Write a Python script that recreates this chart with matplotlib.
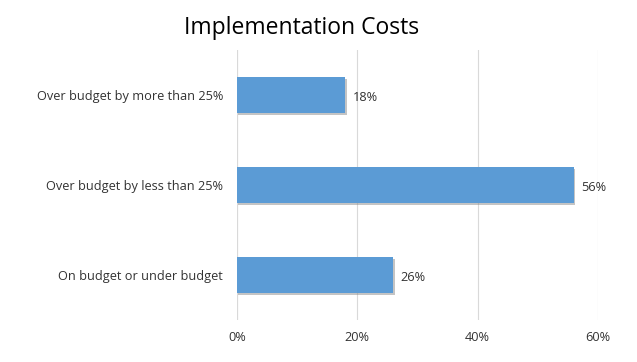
# Implementation Costs - horizontal bar chart

import matplotlib
matplotlib.use('Agg')
import matplotlib.pyplot as plt
import matplotlib.patheffects as pe

# data
categories = ['On budget or under budget', 'Over budget by less than 25%', 'Over budget by more than 25%']
values = [26, 56, 18]
xticks = [0, 20, 40, 60]
xtick_labels = ['0%', '20%', '40%', '60%']

plt.rcParams['font.family'] = ['Open Sans', 'DejaVu Sans']

fig = plt.figure(figsize=(6.37, 3.62), dpi=100)
ax = fig.add_axes([0.372, 0.116, 0.567, 0.746])

bars = ax.barh(range(len(categories)), values, height=0.4, color='#5B9BD5', zorder=3)
for b in bars:
    b.set_path_effects([pe.SimplePatchShadow(offset=(1, -1.5), shadow_rgbFace='#8a8a8a', alpha=0.5), pe.Normal()])

for i, v in enumerate(values):
    ax.text(v + 1.2, i - 0.03, '%d%%' % v, va='center', ha='left', fontsize=9.2, color='#333333')

ax.set_xlim(0, 60)
ax.set_ylim(-0.5, len(categories) - 0.5)
ax.set_xticks(xticks)
ax.set_xticklabels(xtick_labels)
ax.set_yticks(range(len(categories)))
ax.set_yticklabels(categories)
ax.tick_params(axis='both', length=0, labelsize=9.2, labelcolor='#333333')
ax.tick_params(axis='x', pad=8)
ax.tick_params(axis='y', pad=10)
ax.xaxis.grid(True, color='#D9D9D9', linewidth=0.8, zorder=0)
for s in ax.spines.values():
    s.set_visible(False)
ax.axvline(0, color='#D9D9D9', linewidth=0.8, zorder=1)

fig.text(0.473, 0.922, 'Implementation Costs', ha='center', va='center', fontsize=16.5, color='black')

fig.savefig('out.png', dpi=100)
